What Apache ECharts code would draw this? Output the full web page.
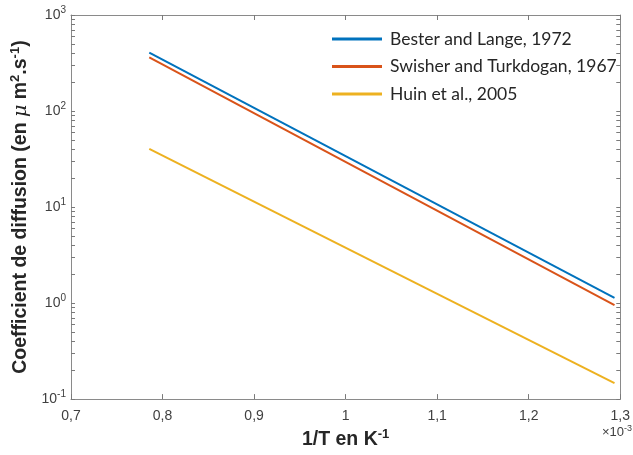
<!DOCTYPE html>
<html>
<head>
<meta charset="utf-8">
<script src="https://cdn.jsdelivr.net/npm/echarts@6/dist/echarts.min.js"></script>
<style>html,body{margin:0;padding:0;background:#fff}#c{width:633px;height:455px}</style>
</head>
<body>
<div id="c"></div>
<script>
// x values in units of 1e-3 K^-1
const invT = [0.7855, 1.2937];
const besterLange = [405, 1.13];
const swisherTurkdogan = [362, 0.95];
const huin = [40.3, 0.147];
const seriesNames = ['Bester and Lange, 1972', 'Swisher and Turkdogan, 1967', 'Huin et al., 2005'];
const seriesColors = ['#0072BD', '#D95319', '#EDB120'];
const yMajor = [0.1, 1, 10, 100, 1000];
const yMinor = [0.2,0.3,0.4,0.5,0.6,0.7,0.8,0.9,2,3,4,5,6,7,8,9,20,30,40,50,60,70,80,90,200,300,400,500,600,700,800,900];

const chart = echarts.init(document.getElementById('c'));
const axisCol = '#8a8a8a';
const tickCol = '#7a7a7a';
const labCol = '#404040';
const pair = (xs, ys) => xs.map((x, i) => [x, ys[i]]);
const yTickVals = yMajor.concat(yMinor).sort((a,b)=>a-b);

function xAx(pos, extra) {
  return Object.assign({
    type: 'value', min: 0.7, max: 1.3, interval: 0.1, position: pos,
    axisLine: {show: true, lineStyle: {color: axisCol}},
    axisTick: {show: true, inside: true, length: 5, lineStyle: {color: tickCol, width: 1}},
    splitLine: {show: false}
  }, extra);
}
function yAx(pos, extra) {
  return Object.assign({
    type: 'log', logBase: 10, min: 0.1, max: 1000, position: pos,
    axisLine: {show: true, lineStyle: {color: axisCol}},
    axisTick: {show: true, inside: true, length: 4, customValues: yTickVals, lineStyle: {color: tickCol, width: 1}},
    splitLine: {show: false}
  }, extra);
}

chart.setOption({
  animation: false,
  backgroundColor: '#fff',
  grid: {left: 71, right: 7, top: 15, bottom: 50},
  xAxis: [
    xAx('bottom', {
      name: '{b|1/T en K}{s|-1}',
      nameLocation: 'middle', nameGap: 28,
      nameTextStyle: {rich: {
        b: {fontFamily: 'Liberation Sans', fontWeight: 'bold', fontSize: 19.5, color: '#262626'},
        s: {fontFamily: 'Liberation Sans', fontWeight: 'bold', fontSize: 13, color: '#262626', padding: [0,0,11,0]}
      }},
      axisLabel: {
        show: true, margin: 10, color: labCol, fontFamily: 'Liberation Sans', fontSize: 14,
        formatter: v => (Math.abs(v - 1) < 1e-9 ? '1' : (+v.toFixed(1)).toString().replace('.', ','))
      }
    }),
    xAx('top', {axisLabel: {show: false}})
  ],
  yAxis: [
    yAx('left', {
      name: '{b|Coefficient de diffusion (en }{m|μ}{b| m}{s|2}{b|.s}{s|-1}{b|)}',
      nameLocation: 'middle', nameGap: 31, nameRotate: 90,
      nameTextStyle: {rich: {
        b: {fontFamily: 'Liberation Sans', fontWeight: 'bold', fontSize: 19.5, color: '#262626'},
        m: {fontFamily: 'DejaVu Serif', fontStyle: 'italic', fontSize: 19, color: '#262626'},
        s: {fontFamily: 'Liberation Sans', fontWeight: 'bold', fontSize: 13, color: '#262626', padding: [0,0,11,0]}
      }},
      axisLabel: {
        show: true, margin: 5, color: labCol,
        customValues: yMajor,
        formatter: v => '{b|10}{s|' + Math.round(Math.log10(v)) + '}',
        rich: {
          b: {fontFamily: 'Liberation Sans', fontSize: 14, color: labCol},
          s: {fontFamily: 'Liberation Sans', fontSize: 10, color: labCol, padding: [0,0,10,0]}
        }
      }
    }),
    yAx('right', {axisLabel: {show: false}})
  ],
  legend: {
    orient: 'vertical', left: 327, top: 24, itemGap: 7.5,
    itemWidth: 50, itemHeight: 3, icon: 'rect',
    data: seriesNames,
    textStyle: {fontFamily: 'Lato', fontSize: 17.5, color: '#262626', lineHeight: 20, padding: [0,0,0,3]}
  },
  graphic: [{
    type: 'text', right: 1, top: 424,
    style: {
      text: '{m|×}{b|10}{s|-3}',
      rich: {
        m: {fontFamily: 'Liberation Sans', fontSize: 13, fill: labCol},
        b: {fontFamily: 'Liberation Sans', fontSize: 13, fill: labCol},
        s: {fontFamily: 'Liberation Sans', fontSize: 9, fill: labCol, padding: [0,0,8,0]}
      }
    }
  }],
  series: [
    {name: seriesNames[0], type: 'line', data: pair(invT, besterLange)},
    {name: seriesNames[1], type: 'line', data: pair(invT, swisherTurkdogan)},
    {name: seriesNames[2], type: 'line', data: pair(invT, huin)}
  ].map((s, i) => Object.assign(s, {
    xAxisIndex: 0, yAxisIndex: 0, symbol: 'none', color: seriesColors[i],
    lineStyle: {color: seriesColors[i], width: 2}
  }))
});
</script>
</body>
</html>
